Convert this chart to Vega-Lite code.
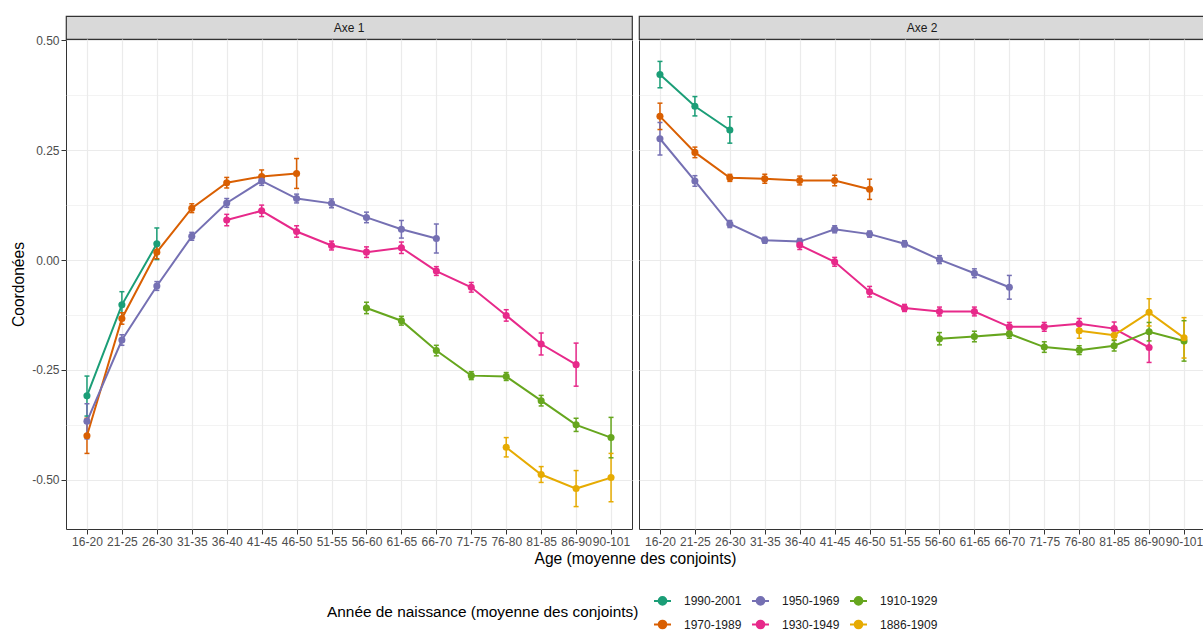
{
  "$schema": "https://vega.github.io/schema/vega-lite/v6.json",
  "padding": {"left": 11, "top": 15, "right": 0, "bottom": 0},
  "autosize": {"type": "pad"},
  "background": "white",
  "config": {
    "font": "Liberation Sans",
    "view": {"stroke": "#333333", "strokeWidth": 1},
    "axis": {
      "labelFontSize": 12,
      "labelColor": "#4D4D4D",
      "labelFont": "Liberation Sans",
      "titleFontSize": 15.6,
      "titleFontWeight": "normal",
      "titleColor": "#000000",
      "titleFont": "Liberation Sans",
      "tickColor": "#333333",
      "tickSize": 5,
      "tickWidth": 1,
      "labelPadding": 2,
      "domain": false,
      "gridColor": "#EBEBEB",
      "labelOverlap": false,
      "labelFlush": false,
      "labelBound": false
    },
    "legend": {
      "direction": "horizontal",
      "columns": 3,
      "titleOrient": "left",
      "titleAnchor": "middle",
      "titleFontSize": 15.4,
      "titleFontWeight": "normal",
      "titleColor": "#000000",
      "titleFont": "Liberation Sans",
      "titlePadding": 14,
      "titleLimit": 500,
      "labelFontSize": 12,
      "labelColor": "#1A1A1A",
      "labelFont": "Liberation Sans",
      "symbolType": "M-1,0H1M0,-0.55V0.55M0.45,0A0.45,0.45 0 1 1 -0.45,0A0.45,0.45 0 1 1 0.45,0Z",
      "symbolSize": 289,
      "symbolStrokeWidth": 2,
      "labelOffset": 12,
      "columnPadding": 6,
      "rowPadding": 5
    }
  },
  "datasets": {
    "d": [
      {"axe": "Axe 1", "cohort": "1990-2001", "age": "16-20", "y": -0.309, "lo": -0.355, "hi": -0.264},
      {"axe": "Axe 1", "cohort": "1990-2001", "age": "21-25", "y": -0.102, "lo": -0.132, "hi": -0.072},
      {"axe": "Axe 1", "cohort": "1990-2001", "age": "26-30", "y": 0.037, "lo": 0.001, "hi": 0.073},
      {"axe": "Axe 1", "cohort": "1970-1989", "age": "16-20", "y": -0.400, "lo": -0.440, "hi": -0.360},
      {"axe": "Axe 1", "cohort": "1970-1989", "age": "21-25", "y": -0.133, "lo": -0.146, "hi": -0.120},
      {"axe": "Axe 1", "cohort": "1970-1989", "age": "26-30", "y": 0.018, "lo": 0.003, "hi": 0.033},
      {"axe": "Axe 1", "cohort": "1970-1989", "age": "31-35", "y": 0.118, "lo": 0.108, "hi": 0.128},
      {"axe": "Axe 1", "cohort": "1970-1989", "age": "36-40", "y": 0.176, "lo": 0.164, "hi": 0.188},
      {"axe": "Axe 1", "cohort": "1970-1989", "age": "41-45", "y": 0.190, "lo": 0.175, "hi": 0.205},
      {"axe": "Axe 1", "cohort": "1970-1989", "age": "46-50", "y": 0.197, "lo": 0.163, "hi": 0.231},
      {"axe": "Axe 1", "cohort": "1950-1969", "age": "16-20", "y": -0.367, "lo": -0.407, "hi": -0.327},
      {"axe": "Axe 1", "cohort": "1950-1969", "age": "21-25", "y": -0.182, "lo": -0.194, "hi": -0.170},
      {"axe": "Axe 1", "cohort": "1950-1969", "age": "26-30", "y": -0.059, "lo": -0.069, "hi": -0.049},
      {"axe": "Axe 1", "cohort": "1950-1969", "age": "31-35", "y": 0.054, "lo": 0.045, "hi": 0.063},
      {"axe": "Axe 1", "cohort": "1950-1969", "age": "36-40", "y": 0.130, "lo": 0.120, "hi": 0.140},
      {"axe": "Axe 1", "cohort": "1950-1969", "age": "41-45", "y": 0.180, "lo": 0.170, "hi": 0.190},
      {"axe": "Axe 1", "cohort": "1950-1969", "age": "46-50", "y": 0.140, "lo": 0.130, "hi": 0.150},
      {"axe": "Axe 1", "cohort": "1950-1969", "age": "51-55", "y": 0.129, "lo": 0.119, "hi": 0.139},
      {"axe": "Axe 1", "cohort": "1950-1969", "age": "56-60", "y": 0.097, "lo": 0.085, "hi": 0.109},
      {"axe": "Axe 1", "cohort": "1950-1969", "age": "61-65", "y": 0.070, "lo": 0.050, "hi": 0.090},
      {"axe": "Axe 1", "cohort": "1950-1969", "age": "66-70", "y": 0.049, "lo": 0.016, "hi": 0.082},
      {"axe": "Axe 1", "cohort": "1930-1949", "age": "36-40", "y": 0.091, "lo": 0.078, "hi": 0.104},
      {"axe": "Axe 1", "cohort": "1930-1949", "age": "41-45", "y": 0.112, "lo": 0.099, "hi": 0.125},
      {"axe": "Axe 1", "cohort": "1930-1949", "age": "46-50", "y": 0.065, "lo": 0.052, "hi": 0.078},
      {"axe": "Axe 1", "cohort": "1930-1949", "age": "51-55", "y": 0.033, "lo": 0.023, "hi": 0.043},
      {"axe": "Axe 1", "cohort": "1930-1949", "age": "56-60", "y": 0.018, "lo": 0.006, "hi": 0.030},
      {"axe": "Axe 1", "cohort": "1930-1949", "age": "61-65", "y": 0.028, "lo": 0.015, "hi": 0.041},
      {"axe": "Axe 1", "cohort": "1930-1949", "age": "66-70", "y": -0.025, "lo": -0.035, "hi": -0.015},
      {"axe": "Axe 1", "cohort": "1930-1949", "age": "71-75", "y": -0.062, "lo": -0.073, "hi": -0.051},
      {"axe": "Axe 1", "cohort": "1930-1949", "age": "76-80", "y": -0.126, "lo": -0.139, "hi": -0.113},
      {"axe": "Axe 1", "cohort": "1930-1949", "age": "81-85", "y": -0.191, "lo": -0.216, "hi": -0.166},
      {"axe": "Axe 1", "cohort": "1930-1949", "age": "86-90", "y": -0.238, "lo": -0.287, "hi": -0.189},
      {"axe": "Axe 1", "cohort": "1910-1929", "age": "56-60", "y": -0.109, "lo": -0.122, "hi": -0.096},
      {"axe": "Axe 1", "cohort": "1910-1929", "age": "61-65", "y": -0.138, "lo": -0.148, "hi": -0.128},
      {"axe": "Axe 1", "cohort": "1910-1929", "age": "66-70", "y": -0.206, "lo": -0.218, "hi": -0.194},
      {"axe": "Axe 1", "cohort": "1910-1929", "age": "71-75", "y": -0.263, "lo": -0.272, "hi": -0.254},
      {"axe": "Axe 1", "cohort": "1910-1929", "age": "76-80", "y": -0.265, "lo": -0.274, "hi": -0.256},
      {"axe": "Axe 1", "cohort": "1910-1929", "age": "81-85", "y": -0.320, "lo": -0.332, "hi": -0.308},
      {"axe": "Axe 1", "cohort": "1910-1929", "age": "86-90", "y": -0.375, "lo": -0.390, "hi": -0.360},
      {"axe": "Axe 1", "cohort": "1910-1929", "age": "90-101", "y": -0.404, "lo": -0.450, "hi": -0.358},
      {"axe": "Axe 1", "cohort": "1886-1909", "age": "76-80", "y": -0.426, "lo": -0.448, "hi": -0.404},
      {"axe": "Axe 1", "cohort": "1886-1909", "age": "81-85", "y": -0.488, "lo": -0.506, "hi": -0.470},
      {"axe": "Axe 1", "cohort": "1886-1909", "age": "86-90", "y": -0.520, "lo": -0.561, "hi": -0.479},
      {"axe": "Axe 1", "cohort": "1886-1909", "age": "90-101", "y": -0.495, "lo": -0.550, "hi": -0.440},
      {"axe": "Axe 2", "cohort": "1990-2001", "age": "16-20", "y": 0.422, "lo": 0.392, "hi": 0.452},
      {"axe": "Axe 2", "cohort": "1990-2001", "age": "21-25", "y": 0.350, "lo": 0.328, "hi": 0.372},
      {"axe": "Axe 2", "cohort": "1990-2001", "age": "26-30", "y": 0.296, "lo": 0.266, "hi": 0.326},
      {"axe": "Axe 2", "cohort": "1970-1989", "age": "16-20", "y": 0.327, "lo": 0.297, "hi": 0.357},
      {"axe": "Axe 2", "cohort": "1970-1989", "age": "21-25", "y": 0.245, "lo": 0.233, "hi": 0.257},
      {"axe": "Axe 2", "cohort": "1970-1989", "age": "26-30", "y": 0.187, "lo": 0.179, "hi": 0.195},
      {"axe": "Axe 2", "cohort": "1970-1989", "age": "31-35", "y": 0.185, "lo": 0.175, "hi": 0.195},
      {"axe": "Axe 2", "cohort": "1970-1989", "age": "36-40", "y": 0.181, "lo": 0.171, "hi": 0.191},
      {"axe": "Axe 2", "cohort": "1970-1989", "age": "41-45", "y": 0.181, "lo": 0.169, "hi": 0.193},
      {"axe": "Axe 2", "cohort": "1970-1989", "age": "46-50", "y": 0.161, "lo": 0.138, "hi": 0.184},
      {"axe": "Axe 2", "cohort": "1950-1969", "age": "16-20", "y": 0.276, "lo": 0.239, "hi": 0.313},
      {"axe": "Axe 2", "cohort": "1950-1969", "age": "21-25", "y": 0.180, "lo": 0.168, "hi": 0.192},
      {"axe": "Axe 2", "cohort": "1950-1969", "age": "26-30", "y": 0.082, "lo": 0.074, "hi": 0.090},
      {"axe": "Axe 2", "cohort": "1950-1969", "age": "31-35", "y": 0.045, "lo": 0.038, "hi": 0.052},
      {"axe": "Axe 2", "cohort": "1950-1969", "age": "36-40", "y": 0.042, "lo": 0.035, "hi": 0.049},
      {"axe": "Axe 2", "cohort": "1950-1969", "age": "41-45", "y": 0.070, "lo": 0.062, "hi": 0.078},
      {"axe": "Axe 2", "cohort": "1950-1969", "age": "46-50", "y": 0.059, "lo": 0.052, "hi": 0.066},
      {"axe": "Axe 2", "cohort": "1950-1969", "age": "51-55", "y": 0.037, "lo": 0.030, "hi": 0.044},
      {"axe": "Axe 2", "cohort": "1950-1969", "age": "56-60", "y": 0.001, "lo": -0.008, "hi": 0.010},
      {"axe": "Axe 2", "cohort": "1950-1969", "age": "61-65", "y": -0.030, "lo": -0.040, "hi": -0.020},
      {"axe": "Axe 2", "cohort": "1950-1969", "age": "66-70", "y": -0.062, "lo": -0.089, "hi": -0.035},
      {"axe": "Axe 2", "cohort": "1930-1949", "age": "36-40", "y": 0.034, "lo": 0.024, "hi": 0.044},
      {"axe": "Axe 2", "cohort": "1930-1949", "age": "41-45", "y": -0.004, "lo": -0.014, "hi": 0.006},
      {"axe": "Axe 2", "cohort": "1930-1949", "age": "46-50", "y": -0.072, "lo": -0.084, "hi": -0.060},
      {"axe": "Axe 2", "cohort": "1930-1949", "age": "51-55", "y": -0.109, "lo": -0.117, "hi": -0.101},
      {"axe": "Axe 2", "cohort": "1930-1949", "age": "56-60", "y": -0.117, "lo": -0.127, "hi": -0.107},
      {"axe": "Axe 2", "cohort": "1930-1949", "age": "61-65", "y": -0.117, "lo": -0.127, "hi": -0.107},
      {"axe": "Axe 2", "cohort": "1930-1949", "age": "66-70", "y": -0.152, "lo": -0.162, "hi": -0.142},
      {"axe": "Axe 2", "cohort": "1930-1949", "age": "71-75", "y": -0.152, "lo": -0.162, "hi": -0.142},
      {"axe": "Axe 2", "cohort": "1930-1949", "age": "76-80", "y": -0.145, "lo": -0.157, "hi": -0.133},
      {"axe": "Axe 2", "cohort": "1930-1949", "age": "81-85", "y": -0.156, "lo": -0.171, "hi": -0.141},
      {"axe": "Axe 2", "cohort": "1930-1949", "age": "86-90", "y": -0.199, "lo": -0.233, "hi": -0.165},
      {"axe": "Axe 2", "cohort": "1910-1929", "age": "56-60", "y": -0.179, "lo": -0.193, "hi": -0.165},
      {"axe": "Axe 2", "cohort": "1910-1929", "age": "61-65", "y": -0.174, "lo": -0.186, "hi": -0.162},
      {"axe": "Axe 2", "cohort": "1910-1929", "age": "66-70", "y": -0.168, "lo": -0.178, "hi": -0.158},
      {"axe": "Axe 2", "cohort": "1910-1929", "age": "71-75", "y": -0.198, "lo": -0.210, "hi": -0.186},
      {"axe": "Axe 2", "cohort": "1910-1929", "age": "76-80", "y": -0.205, "lo": -0.215, "hi": -0.195},
      {"axe": "Axe 2", "cohort": "1910-1929", "age": "81-85", "y": -0.195, "lo": -0.207, "hi": -0.183},
      {"axe": "Axe 2", "cohort": "1910-1929", "age": "86-90", "y": -0.163, "lo": -0.184, "hi": -0.142},
      {"axe": "Axe 2", "cohort": "1910-1929", "age": "90-101", "y": -0.184, "lo": -0.230, "hi": -0.138},
      {"axe": "Axe 2", "cohort": "1886-1909", "age": "76-80", "y": -0.161, "lo": -0.178, "hi": -0.144},
      {"axe": "Axe 2", "cohort": "1886-1909", "age": "81-85", "y": -0.171, "lo": -0.181, "hi": -0.161},
      {"axe": "Axe 2", "cohort": "1886-1909", "age": "86-90", "y": -0.119, "lo": -0.150, "hi": -0.088},
      {"axe": "Axe 2", "cohort": "1886-1909", "age": "90-101", "y": -0.177, "lo": -0.223, "hi": -0.131}
    ]
  },
  "bounds": "flush",
  "columns": 2,
  "spacing": {"row": 0, "column": 7},
  "concat": [
    {
      "data": {"values": [{"panel": "Axe 1"}]},
      "width": 566,
      "height": 23,
      "view": {"fill": "#D9D9D9", "stroke": "#333333", "strokeWidth": 1.2},
      "mark": {"type": "text", "fontSize": 12, "color": "#1A1A1A", "align": "center", "baseline": "middle", "font": "Liberation Sans"},
      "encoding": {"text": {"field": "panel", "type": "nominal"}}
    },
    {
      "data": {"values": [{"panel": "Axe 2"}]},
      "width": 566,
      "height": 23,
      "view": {"fill": "#D9D9D9", "stroke": "#333333", "strokeWidth": 1.2},
      "mark": {"type": "text", "fontSize": 12, "color": "#1A1A1A", "align": "center", "baseline": "middle", "font": "Liberation Sans"},
      "encoding": {"text": {"field": "panel", "type": "nominal"}}
    },
    {
      "data": {"name": "d"},
      "transform": [{"filter": "datum.axe === 'Axe 1'"}],
      "width": 566,
      "height": 490,
      "encoding": {
        "x": {
          "field": "age", "type": "ordinal",
          "sort": ["16-20","21-25","26-30","31-35","36-40","41-45","46-50","51-55","56-60","61-65","66-70","71-75","76-80","81-85","86-90","90-101"],
          "scale": {"type": "point", "padding": 0.6, "domain": ["16-20","21-25","26-30","31-35","36-40","41-45","46-50","51-55","56-60","61-65","66-70","71-75","76-80","81-85","86-90","90-101"]},
          "axis": {"title": "Age (moyenne des conjoints)", "labelAngle": 0, "titleX": 569, "titleAlign": "center", "titlePadding": 4, "grid": true, "gridWidth": 1.2}
        },
        "color": {
          "field": "cohort", "type": "nominal",
          "scale": {"domain": ["1990-2001","1950-1969","1910-1929","1970-1989","1930-1949","1886-1909"], "range": ["#1B9E77","#7570B3","#66A61E","#D95F02","#E7298A","#E6AB02"]},
          "legend": {"title": "Année de naissance (moyenne des conjoints)", "orient": "none", "legendX": 261, "legendY": 575,
            "encode": {"symbols": {"update": {"fill": {"scale": "color", "field": "value"}, "stroke": {"scale": "color", "field": "value"}}}}}
        }
      },
      "layer": [
        {
          "mark": {"type": "rule", "strokeWidth": 1.5},
          "encoding": {
            "y": {"field": "lo", "type": "quantitative", "scale": {"domain": [-0.612, 0.503], "nice": false, "zero": false},
              "axis": {"title": "Coordonées", "titlePadding": 5,
                "values": [-0.5, -0.375, -0.25, -0.125, 0, 0.125, 0.25, 0.375, 0.5],
                "labelExpr": "abs(round(datum.value*8))%2==1 ? '' : (datum.value < 0 ? '-' + format(-datum.value, '.2f') : format(datum.value, '.2f'))",
                "grid": true,
                "gridWidth": {"condition": {"test": "abs(round(datum.value*8))%2==1", "value": 0.6}, "value": 1.2},
                "tickOpacity": {"condition": {"test": "abs(round(datum.value*8))%2==1", "value": 0}, "value": 1}}},
            "y2": {"field": "hi"}
          }
        },
        {
          "mark": {"type": "tick", "size": 5, "thickness": 1.5, "opacity": 1},
          "encoding": {"y": {"field": "lo", "type": "quantitative"}}
        },
        {
          "mark": {"type": "tick", "size": 5, "thickness": 1.5, "opacity": 1},
          "encoding": {"y": {"field": "hi", "type": "quantitative"}}
        },
        {
          "mark": {"type": "line", "strokeWidth": 2},
          "encoding": {"y": {"field": "y", "type": "quantitative"}}
        },
        {
          "mark": {"type": "point", "filled": true, "size": 50, "opacity": 1},
          "encoding": {"y": {"field": "y", "type": "quantitative"}}
        }
      ]
    },
    {
      "data": {"name": "d"},
      "transform": [{"filter": "datum.axe === 'Axe 2'"}],
      "width": 566,
      "height": 490,
      "encoding": {
        "x": {
          "field": "age", "type": "ordinal",
          "sort": ["16-20","21-25","26-30","31-35","36-40","41-45","46-50","51-55","56-60","61-65","66-70","71-75","76-80","81-85","86-90","90-101"],
          "scale": {"type": "point", "padding": 0.6, "domain": ["16-20","21-25","26-30","31-35","36-40","41-45","46-50","51-55","56-60","61-65","66-70","71-75","76-80","81-85","86-90","90-101"]},
          "axis": {"title": null, "labelAngle": 0, "grid": true, "gridWidth": 1.2}
        },
        "color": {
          "field": "cohort", "type": "nominal",
          "scale": {"domain": ["1990-2001","1950-1969","1910-1929","1970-1989","1930-1949","1886-1909"], "range": ["#1B9E77","#7570B3","#66A61E","#D95F02","#E7298A","#E6AB02"]},
          "legend": {"title": "Année de naissance (moyenne des conjoints)", "orient": "none", "legendX": 261, "legendY": 575,
            "encode": {"symbols": {"update": {"fill": {"scale": "color", "field": "value"}, "stroke": {"scale": "color", "field": "value"}}}}}
        }
      },
      "layer": [
        {
          "mark": {"type": "rule", "strokeWidth": 1.5},
          "encoding": {
            "y": {"field": "lo", "type": "quantitative", "scale": {"domain": [-0.612, 0.503], "nice": false, "zero": false},
              "axis": {"title": null, "labels": false, "ticks": false,
                "values": [-0.5, -0.375, -0.25, -0.125, 0, 0.125, 0.25, 0.375, 0.5],
                "grid": true,
                "gridWidth": {"condition": {"test": "abs(round(datum.value*8))%2==1", "value": 0.6}, "value": 1.2}}},
            "y2": {"field": "hi"}
          }
        },
        {
          "mark": {"type": "tick", "size": 5, "thickness": 1.5, "opacity": 1},
          "encoding": {"y": {"field": "lo", "type": "quantitative"}}
        },
        {
          "mark": {"type": "tick", "size": 5, "thickness": 1.5, "opacity": 1},
          "encoding": {"y": {"field": "hi", "type": "quantitative"}}
        },
        {
          "mark": {"type": "line", "strokeWidth": 2},
          "encoding": {"y": {"field": "y", "type": "quantitative"}}
        },
        {
          "mark": {"type": "point", "filled": true, "size": 50, "opacity": 1},
          "encoding": {"y": {"field": "y", "type": "quantitative"}}
        }
      ]
    }
  ]
}
